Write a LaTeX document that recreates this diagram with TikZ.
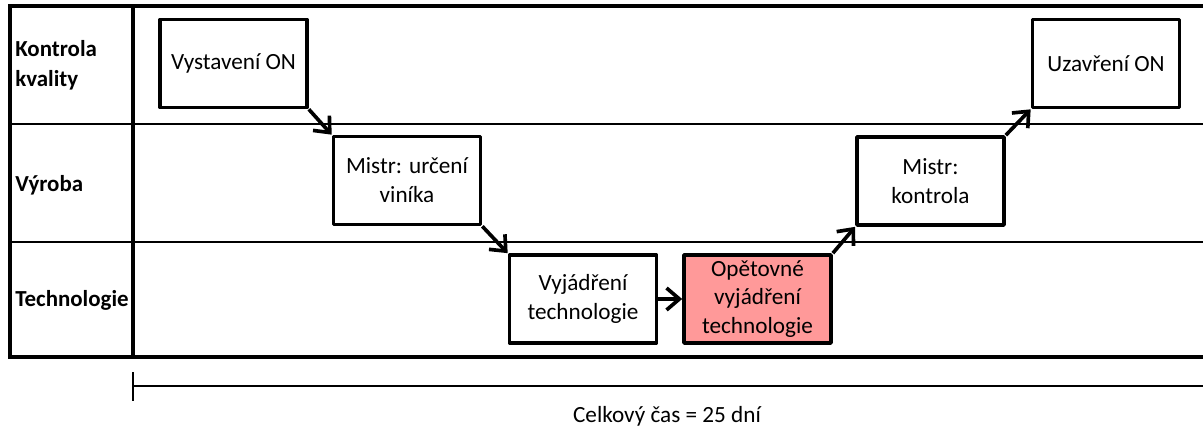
\documentclass[tikz,border=0pt]{standalone}
\usepackage{fontspec}
\setmainfont{Carlito}
\usetikzlibrary{arrows.meta}
\definecolor{opakovani}{RGB}{255,153,153}
\tikzset{
  krok/.style={draw, line width=2.6pt, minimum width=3.675cm, minimum height=2.2cm,
    align=center, inner sep=1pt, font=\fontsize{16.5}{20.5}\selectfont},
  sipka/.style={line width=2.6pt, -{Straight Barb[length=3.2mm,width=5.5mm]}},
  oddeleni/.style={anchor=west, align=left, inner sep=0pt, font=\fontsize{16.3}{21}\selectfont\bfseries},
}
\begin{document}
\begin{tikzpicture}[x=0.025cm, y=-0.025cm, line join=round]
  \useasboundingbox (0,0) rectangle (1203,432);
  % swimlanes
  \draw[line width=2.6pt, line join=miter] (1203,6) -- (10,6) -- (10,357) -- (1203,357);
  \draw[line width=2.6pt] (133,6) -- (133,357);
  \draw[line width=1.2pt] (10,124) -- (1203,124) (10,242) -- (1203,242);
  \node[oddeleni] (kontrolakv) at (15,65) {Kontrola\\kvality};
  \node[oddeleni] (vyroba) at (15,185) {Výroba};
  \node[oddeleni] (technologie) at (15,300) {Technologie};
  % steps
  \node[krok] (vystaveni) at (233.5,63.5) {Vystavení ON};
  \node[krok] (urceni) at (407,180.5) {Mistr: určení\\viníka};
  \node[krok] (vyjadreni) at (583,299) {Vyjádření\\technologie};
  \node[krok, fill=opakovani] (opetovne) at (757.5,299) {Opětovné\\vyjádření\\technologie};
  \node[krok] (kontrola) at (930.5,181) {Mistr:\\kontrola};
  \node[krok] (uzavreni) at (1106,63.5) {Uzavření ON};
  \draw[sipka] (vystaveni.south east) -- (urceni.north west);
  \draw[sipka] (urceni.south east) -- (vyjadreni.north west);
  \draw[sipka] (vyjadreni) -- (opetovne);
  \draw[sipka] (opetovne.north east) -- (kontrola.south west);
  \draw[sipka] (kontrola.north east) -- (uzavreni.south west);
  % time axis
  \coordinate (zacatek) at (133,386);
  \coordinate (konec) at (1203,386);
  \draw[line width=1.2pt] (133,372) -- (133,401);
  \draw[line width=1.2pt] (zacatek) -- (konec);
  \node[font=\fontsize{16.5}{19}\selectfont] (celkem) at (667,416) {Celkový čas = 25 dní};
\end{tikzpicture}
\end{document}
